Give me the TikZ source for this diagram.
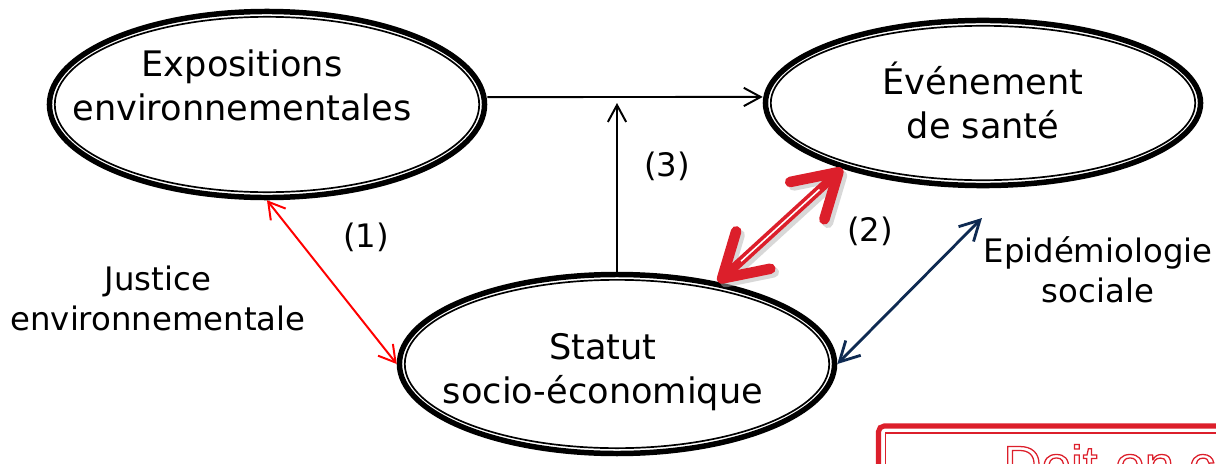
\documentclass[tikz,border=0pt]{standalone}
\usepackage{fontspec}
\setmainfont{DejaVu Sans}
\newfontfamily\boxfont{Liberation Sans}
\usetikzlibrary{arrows.meta,calc,shapes.geometric}
\definecolor{linkred}{HTML}{FF0000}
\definecolor{bigred}{HTML}{DC1F2B}
\definecolor{epinavy}{HTML}{0E2A52}
\newcommand\outlinetext[1]{\special{pdf:code q 1 Tr 0.9 w}#1\special{pdf:code Q}}
\tikzset{
  bubble/.style={ellipse, draw, line width=3.9pt, inner sep=0pt, minimum width=309.4pt,
    path picture={\draw[line width=1.2pt]
      let \p1=($(path picture bounding box.north east)-(path picture bounding box.center)$)
      in (path picture bounding box.center) ellipse [x radius=\x1-3.8pt, y radius=\y1-3.8pt];}},
  maintext/.style={align=center, inner sep=0pt, font=\fontsize{25}{31.3}\selectfont},
  sidetext/.style={align=center, inner sep=0pt, font=\fontsize{23}{28.5}\selectfont},
  link/.style={line width=1.4pt, -{Straight Barb[length=12pt, width=13pt]}},
  justlink/.style={linkred, line width=1.4pt,
    {Straight Barb[length=11.5pt, width=13.5pt]}-{Straight Barb[length=11.5pt, width=13.5pt]}},
  epilink/.style={epinavy, line width=2pt,
    {Straight Barb[length=14pt, width=15pt]}-{Straight Barb[length=14pt, width=15pt]}},
  bigtip/.style={line width=6.3pt,
    {Straight Barb[length=30pt, width=36pt, line width=7.5pt, round]}-{Straight Barb[length=30pt, width=36pt, line width=7.5pt, round]}},
  doittext/.style={text=bigred, inner sep=0pt, font=\boxfont\fontsize{37.7}{40}\selectfont},
}

\begin{document}
\begin{tikzpicture}[x=0.025cm, y=0.025cm]
  \useasboundingbox (0,0) rectangle (1216,463);
  % the three ellipses
  \node[bubble, minimum height=132.3pt] (exp) at (267,358.5) {};
  \node[bubble, minimum height=117.4pt] (evt) at (983,360) {};
  \node[bubble, minimum height=127.3pt] (ses) at (617,99) {};
  \node[maintext] (expt) at (242,378) {Expositions\\environnementales};
  \node[maintext] (evtt) at (983,363) {Événement\\de santé};
  \node[maintext] (sest) at (603,91) {Statut\\socio-économique};

  \coordinate (hit) at (620,360);
  \coordinate (epi) at (982,245);
  \draw[link] ([yshift=5.3pt]exp.east) -- ([yshift=4.3pt]evt.west);
  \draw[link] (ses.north) -- (ses.north |- hit);
  \draw[justlink] (exp.south) -- (ses.west);
  \draw[epilink] (ses.east) -- (epi);

  % thick red arrow (2)
  \draw[bigtip, black!30, opacity=0.5, transform canvas={shift={(2.5pt,-2.5pt)}}] (evt.205) -- (ses.39);
  \draw[bigtip, bigred] (evt.205) -- (ses.39);
  \draw[white, line width=1.1pt, shorten >=22pt, shorten <=22pt] (evt.205) -- (ses.39);

  \node[sidetext] (n1) at (366,226) {(1)};
  \node[sidetext] (n2) at (870,232) {(2)};
  \node[sidetext] (n3) at (667,297) {(3)};
  \node[sidetext] (just) at (158,165) {Justice\\environnementale};
  \node[sidetext] (epit) at (1098,193) {Epidémiologie\\sociale};

  % box at the bottom right
  \draw[bigred, line width=3.6pt, rounded corners=4pt] (878.5,37) rectangle (1300,-100);
  \draw[bigred, line width=1.1pt] (885.5,30) rectangle (1300,-100);
  \node[doittext, anchor=base west] (doit) at (1003,-20) {\outlinetext{Doit-on c}};
\end{tikzpicture}
\end{document}
